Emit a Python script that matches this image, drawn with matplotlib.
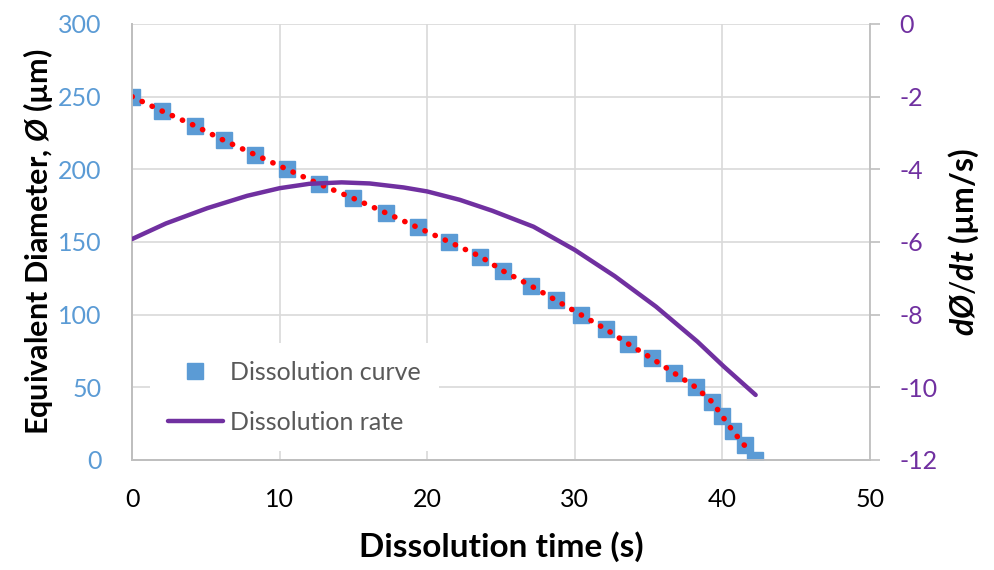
import matplotlib
matplotlib.use("Agg")
import matplotlib.pyplot as plt

# dissolution curve (squares)
time_s = [0, 2.05, 4.25, 6.2, 8.35, 10.5, 12.65, 15.0, 17.2, 19.35,
          21.5, 23.6, 25.15, 27.0, 28.7, 30.4, 32.1, 33.6, 35.2, 36.7,
          38.2, 39.3, 40.0, 40.7, 41.5, 42.2]
diameter_um = [250, 240, 230, 220, 210, 200, 190, 180, 170, 160,
               150, 140, 130, 120, 110, 100, 90, 80, 70, 60,
               50, 40, 30, 20, 10, 0]

# dissolution rate (purple line)
rate_t = [0, 2.3, 5.1, 7.8, 10.0, 12.0, 14.2, 16.1, 18.4, 20.0, 22.2,
          24.4, 27.2, 30.0, 32.7, 35.5, 38.3, 40.1, 42.25]
rate_um_s = [-5.92, -5.49, -5.07, -4.73, -4.52, -4.40, -4.36, -4.39,
             -4.50, -4.61, -4.84, -5.14, -5.58, -6.22, -6.94, -7.78,
             -8.74, -9.43, -10.21]

blue = "#5B9BD5"
purple = "#7030A0"
grid_c = "#D9D9D9"
spine_c = "#BFBFBF"

plt.rcParams["font.family"] = ["Lato", "DejaVu Sans"]
plt.rcParams["axes.unicode_minus"] = False
plt.rcParams["mathtext.fontset"] = "custom"
plt.rcParams["mathtext.rm"] = "Lato"
plt.rcParams["mathtext.it"] = "Lato:italic:bold"
plt.rcParams["mathtext.bf"] = "Lato:bold"

fig = plt.figure(figsize=(9.95, 5.7), dpi=100)
ax = fig.add_axes([0.1327, 0.193, 0.7417, 0.765])
ax2 = ax.twinx()

sq, = ax.plot(time_s, diameter_um, linestyle="none", marker="s",
              markersize=11, color=blue, markeredgecolor=blue, zorder=3)
# polynomial trendline, drawn as red dots
ax.plot(time_s[:-1], diameter_um[:-1], color="red", lw=4,
        linestyle=(0, (0.05, 1.95)), dash_capstyle="round", zorder=4)

rl, = ax2.plot(rate_t, rate_um_s, color=purple, lw=3.2,
               solid_capstyle="round", solid_joinstyle="round", zorder=3)

ax.set_xlim(0, 50)
ax.set_ylim(0, 300)
ax2.set_ylim(-12, 0)
ax.set_xticks(range(0, 51, 10))
ax.set_yticks(range(0, 301, 50))
ax2.set_yticks(range(-12, 1, 2))

ax.grid(True, color=grid_c, lw=1.2)
ax.set_axisbelow(True)

for a in (ax, ax2):
    a.spines["top"].set_visible(False)
    for s in ("left", "right", "bottom"):
        a.spines[s].set_color(spine_c)
        a.spines[s].set_linewidth(1.3)
ax.spines["right"].set_visible(False)

ax.tick_params(axis="x", length=0, pad=20, labelsize=18, labelcolor="black")
ax.tick_params(axis="y", length=0, pad=22, labelsize=18, labelcolor=blue)
ax2.tick_params(axis="y", direction="out", length=7, width=1.2,
                color=spine_c, pad=14, labelsize=18, labelcolor=purple)

ax.set_xlabel("Dissolution time (s)", fontsize=24, fontweight="bold",
              labelpad=15)
ax.set_ylabel(r"Equivalent Diameter, $\mathit{Ø}$ (µm)", fontsize=22,
              fontweight="bold", labelpad=2)
ax2.set_ylabel(r"$\mathit{dØ/dt}$ (µm/s)", fontsize=23, fontweight="bold",
               labelpad=7)

leg = ax2.legend([sq, rl], ["Dissolution curve", "Dissolution rate"],
                 loc="upper left", bbox_to_anchor=(0.035, 0.25),
                 borderaxespad=0, fontsize=18, frameon=True, framealpha=1,
                 handlelength=2.2, handletextpad=0.3, labelspacing=1.08,
                 borderpad=0.4)
leg.get_frame().set_edgecolor("none")
leg.get_frame().set_boxstyle("square")
for t in leg.get_texts():
    t.set_color("#595959")

fig.savefig("out.png", dpi=100)
